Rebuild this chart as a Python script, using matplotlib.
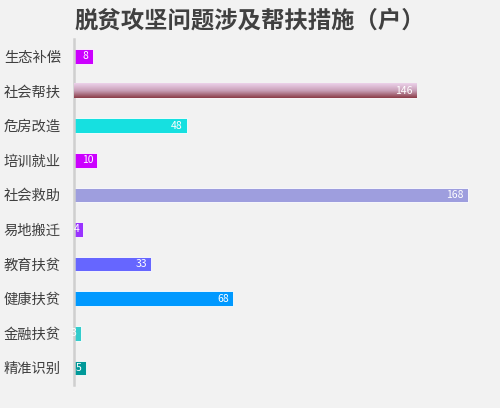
import matplotlib
matplotlib.use('Agg')
import matplotlib.pyplot as plt
import numpy as np
from matplotlib.colors import LinearSegmentedColormap

plt.rcParams['font.family'] = ['Noto Sans CJK SC', 'DejaVu Sans']

# 数据（从上到下）
categories = ['生态补偿', '社会帮扶', '危房改造', '培训就业', '社会救助',
              '易地搬迁', '教育扶贫', '健康扶贫', '金融扶贫', '精准识别']
values = [8, 146, 48, 10, 168, 4, 33, 68, 3, 5]
bar_colors = ['#cc00ff', '#c08aa0', '#16e0e0', '#cc00ff', '#9e9ede',
              '#9933ff', '#6666ff', '#0099ff', '#33cccc', '#009999']
gradient_bar = '社会帮扶'

bg = '#f2f2f2'
fig = plt.figure(figsize=(5, 4.08), dpi=100)
fig.patch.set_facecolor(bg)
ax = fig.add_axes([0.148, 0.056, 0.844, 0.848])
ax.set_facecolor(bg)

y = np.arange(len(categories))
bar_h = 0.42
bars = ax.barh(y, values, bar_h, color=bar_colors, edgecolor='white', linewidth=0.6, zorder=2)

# 社会帮扶 渐变填充（上浅下深）
grad = LinearSegmentedColormap.from_list('g', ['#ecd2ea', '#c9a0b8', '#8b3d48'])
i = categories.index(gradient_bar)
ax.imshow(np.linspace(0, 1, 50).reshape(-1, 1), cmap=grad, aspect='auto',
          extent=[0, values[i], y[i] + bar_h / 2, y[i] - bar_h / 2], zorder=3)

# 数值标注
for yi, v in zip(y, values):
    ax.annotate(str(v), xy=(v, yi), xytext=(-3, 0), textcoords='offset points',
                ha='right', va='center', fontsize=7.5, color='white', zorder=4)

ax.set_xlim(0, 180)
ax.set_ylim(len(categories) - 0.5, -0.5)
ax.set_yticks(y)
ax.set_yticklabels(categories, fontsize=10.3, color='#404040')
ax.tick_params(axis='y', length=0, pad=9.5)
ax.tick_params(axis='x', bottom=False, labelbottom=False)
for s in ['top', 'right', 'bottom']:
    ax.spines[s].set_visible(False)
ax.spines['left'].set_color('#cfcfcf')
ax.spines['left'].set_linewidth(1.8)

fig.text(0.5, 0.95, '脱贫攻坚问题涉及帮扶措施（户）', ha='center', va='center',
         fontsize=16.8, fontweight='bold', color='#404040')

fig.savefig('out.png', dpi=100, facecolor=bg)
